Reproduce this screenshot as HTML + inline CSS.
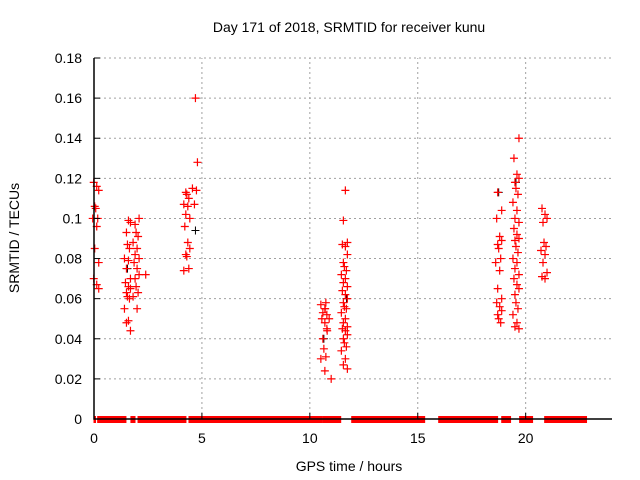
<!DOCTYPE html>
<html><head><meta charset="utf-8"><style>
body{margin:0;background:#fff}
svg{display:block;font-family:"Liberation Sans",sans-serif}
</style></head><body>
<svg id="chart" width="640" height="480" viewBox="0 0 640 480">
<rect width="640" height="480" fill="#fff"/>
<text x="349" y="32" font-size="14" text-anchor="middle">Day 171 of 2018, SRMTID for receiver kunu</text>
<text x="349" y="471" font-size="14" text-anchor="middle">GPS time / hours</text>
<text transform="translate(19,238) rotate(-90)" font-size="14" text-anchor="middle">SRMTID / TECUs</text>
<g id="grid"></g><g id="zeros"></g><g id="pts"></g><g id="axes"></g>
</svg>
<script>
const xTicks=[0,5,10,15,20];
const yTicks=[0,0.02,0.04,0.06,0.08,0.1,0.12,0.14,0.16,0.18];
const yTickLabels=["0","0.02","0.04","0.06","0.08","0.1","0.12","0.14","0.16","0.18"];
const zeroStart=[0.0,0.17,1.71,2.04,4.4,10.6,11.94,15.97,18.89,19.72,20.88];
const zeroEnd=[0.07,1.48,1.9,4.26,10.56,11.43,15.32,18.7,19.3,20.32,22.82];
const clusterHours=[0.08,1.55,1.95,4.3,4.7,10.65,10.85,11.6,18.75,19.55,20.85,2.35];
const clusterValues=[
[0.118,0.116,0.114,0.106,0.105,0.1,0.1,0.096,0.085,0.078,0.07,0.067,0.065],
[0.099,0.098,0.093,0.087,0.085,0.08,0.079,0.075,0.07,0.068,0.066,0.065,0.063,0.061,0.06,0.055,0.049,0.048,0.044],
[0.1,0.097,0.093,0.091,0.088,0.085,0.082,0.08,0.078,0.075,0.072,0.07,0.066,0.063,0.061,0.055],
[0.113,0.112,0.11,0.107,0.106,0.102,0.1,0.096,0.088,0.085,0.082,0.081,0.075,0.074],
[0.16,0.128,0.115,0.114,0.107],
[0.058,0.057,0.055,0.053,0.052,0.05,0.048,0.045,0.04,0.035,0.031,0.03,0.024],
[0.055,0.05,0.044,0.02],
[0.114,0.099,0.088,0.087,0.086,0.082,0.078,0.076,0.074,0.072,0.07,0.068,0.066,0.064,0.062,0.06,0.058,0.056,0.055,0.053,0.05,0.048,0.046,0.045,0.044,0.042,0.04,0.038,0.036,0.034,0.03,0.027,0.025],
[0.113,0.104,0.1,0.091,0.089,0.087,0.085,0.08,0.078,0.074,0.065,0.06,0.058,0.056,0.054,0.052,0.05,0.048],
[0.14,0.13,0.122,0.12,0.118,0.115,0.112,0.108,0.104,0.1,0.098,0.095,0.092,0.09,0.089,0.086,0.083,0.08,0.078,0.075,0.072,0.07,0.067,0.065,0.062,0.058,0.055,0.052,0.048,0.046,0.045],
[0.105,0.102,0.1,0.098,0.088,0.086,0.084,0.082,0.078,0.073,0.071,0.07],
[0.072]
];
const blackHours=[4.7,18.75,19.55,10.65,11.7,1.55];
const blackValues=[0.094,0.113,0.118,0.04,0.06,0.075];
const X0=94,X1=612,Y0=419,Y1=58;
const sx=h=>X0+(h/24)*(X1-X0);
const sy=v=>Y0-(v/0.18)*(Y0-Y1);
const NS="http://www.w3.org/2000/svg";
function mk(p,t,a){const e=document.createElementNS(NS,t);for(const k in a)e.setAttribute(k,a[k]);p.appendChild(e);return e;}
const grid=document.getElementById('grid'),axes=document.getElementById('axes'),zeros=document.getElementById('zeros'),pts=document.getElementById('pts');
yTicks.forEach((v,i)=>{const y=sy(v);
 if(i>0){const g=mk(grid,'line',{x1:X0,x2:X1,y1:y,y2:y,stroke:'#a0a0a0','stroke-dasharray':'2,3'});
 
 }
 const t=mk(axes,'line',{x1:X0,x2:X0+6,y1:y,y2:y,stroke:'#000'});
 
 
 const l=mk(axes,'text',{x:82,y:y+5,'font-size':14,'text-anchor':'end'});l.textContent=yTickLabels[i];
 
 });
xTicks.forEach(h=>{const x=sx(h);
 if(h>0){const g=mk(grid,'line',{x1:x,x2:x,y1:Y0,y2:Y1,stroke:'#a0a0a0','stroke-dasharray':'2,3'});
 
 }
 const t=mk(axes,'line',{x1:x,x2:x,y1:Y0,y2:Y0-6,stroke:'#000'});
 
 
 const l=mk(axes,'text',{x:x,y:443,'font-size':14,'text-anchor':'middle'});l.textContent=String(h);
 
 });
zeroStart.forEach((s,i)=>{const r=mk(zeros,'rect',{x:sx(s)-0.5,y:Y0-3,width:sx(zeroEnd[i])-sx(s)+1,height:7,fill:'#f00'});
 
 });
const jit=[-2,1,3,-1,0,2,-3,1,-1,3];
function cross(h,v,j,c,name,w){const x=sx(h)+j,y=sy(v);
 const p=mk(pts,'path',{d:`M${x-4},${y}H${x+4}M${x},${y-4}V${y+4}`,stroke:c,'stroke-width':w});
 
 }
blackHours.forEach((h,i)=>cross(h,blackValues[i],0,'#000','srmtid-point-alt',1));
clusterHours.forEach((h,ci)=>clusterValues[ci].forEach((v,i)=>cross(h,v,jit[(i+ci)%jit.length],'#f00','srmtid-point',1.2)));
const ax=mk(axes,'path',{d:`M${X0},${Y1}V${Y0}H${X1}`,stroke:'#000',fill:'none','stroke-width':1.5});


</script>
</body></html>
